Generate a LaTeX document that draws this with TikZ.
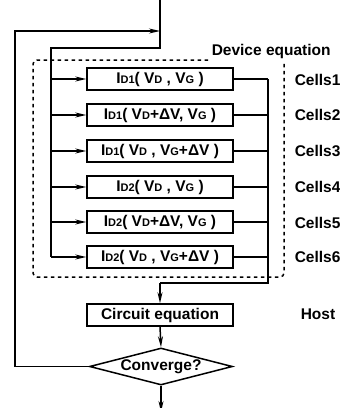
\documentclass[tikz,border=0pt]{standalone}
\usepackage{fontspec}
\setmainfont{Liberation Sans}
\usetikzlibrary{shapes.geometric,arrows.meta}
\begin{document}
\begin{tikzpicture}[x=1pt,y=-1pt,
  line width=1.5pt,
  font=\bfseries\fontsize{15.5}{17}\selectfont,
  cellbox/.style={draw,rectangle,minimum width=146pt,minimum height=22pt,inner sep=0pt},
  tip/.style={-{Stealth[length=11pt,width=5pt]}},
  lbl/.style={anchor=west,inner sep=0pt}]
\useasboundingbox (0,0) rectangle (340,408);
\newcommand{\sbs}[1]{{\fontsize{11}{12}\selectfont\raisebox{-0.5pt}{#1}}}
% device cells
\node[cellbox] (c1) at (160,79) {I\sbs{D1}( V\sbs{D} , V\sbs{G} )};
\node[cellbox] (c2) at (160,115) {I\sbs{D1}( V\sbs{D}+ΔV, V\sbs{G} )};
\node[cellbox] (c3) at (160,151) {I\sbs{D1}( V\sbs{D} , V\sbs{G}+ΔV )};
\node[cellbox] (c4) at (160,187) {I\sbs{D2}( V\sbs{D} , V\sbs{G} )};
\node[cellbox] (c5) at (160,222) {I\sbs{D2}( V\sbs{D}+ΔV, V\sbs{G} )};
\node[cellbox] (c6) at (160,257) {I\sbs{D2}( V\sbs{D} , V\sbs{G}+ΔV )};
\node[cellbox] (circ) at (160,315) {Circuit equation};
\node[draw,diamond,aspect=3.8,inner sep=0pt,minimum width=143pt,minimum height=37pt] (conv) at (161,366.5) {Converge?};
% labels
\node[lbl] (dev) at (211,51) {Device equation};
\foreach \i/\y in {1/80,2/115,3/151,4/187,5/223,6/257}
  \node[lbl] (l\i) at (294,\y) {Cells\i};
\node[lbl] (host) at (300,314) {Host};
% coordinates
\coordinate (top) at (160,0);
\coordinate (a1) at (160,48);
\coordinate (a2) at (51,48);
\coordinate (fbl) at (15,366.5);
\coordinate (fbt) at (15,31);
\coordinate (fbe) at (160,31);
\coordinate (rb) at (268,283);
\coordinate (rj) at (160,283);
\coordinate (bot) at (161,408);
% input line and left bus
\draw (top) -- (a1) -- (a2) -- (a2 |- c6.west);
\foreach \i in {1,...,6} \draw[tip] (a2 |- c\i.west) -- (c\i.west);
% right bus
\foreach \i in {1,...,6} \draw (c\i.east) -- (rb |- c\i.east);
\draw (rb |- c1.east) -- (rb) -- (rj);
\draw[tip] (rj) -- (circ.north);
\draw[tip] (circ.south) -- (conv.north);
\draw[tip] (conv.south) -- ([yshift=-4pt]bot);
\draw (conv.south) -- (bot);
% feedback
\draw[tip] (conv.west) -- (fbl) -- (fbt) -- (fbe);
% dashed device region
\draw[dash pattern=on 3.5pt off 3.5pt,line width=1.5pt,rounded corners=4pt]
  (208,60) -- (33,60) -- (33,277) -- (284,277) -- (284,63);
\end{tikzpicture}
\end{document}
